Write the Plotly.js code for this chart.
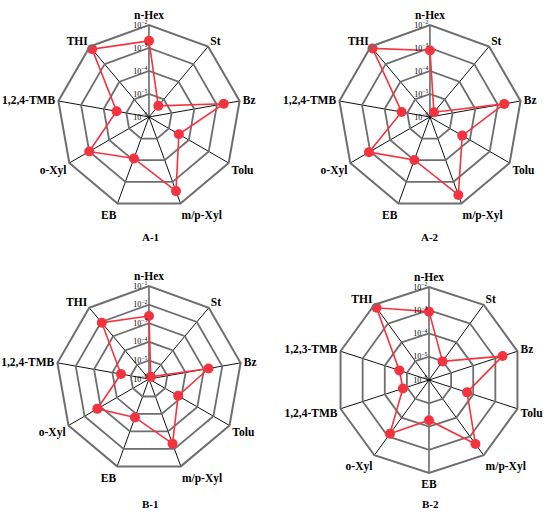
<!DOCTYPE html>
<html>
<head>
<meta charset="utf-8">
<script src="https://cdn.plot.ly/plotly-3.0.1.min.js"></script>
<style>html,body{margin:0;padding:0;background:#fff}#chart{width:550px;height:516px}</style>
</head>
<body>
<div id="chart"></div>
<script>
// categories
const cats9 = ["n-Hex","St","Bz","Tolu","m/p-Xyl","EB","o-Xyl","1,2,4-TMB","THI"];
const cats10 = ["n-Hex","St","Bz","Tolu","m/p-Xyl","EB","o-Xyl","1,2,4-TMB","1,2,3-TMB","THI"];
// values as log10 exponents
const logA1 = [-2.69,-5.37,-2.70,-4.50,-2.57,-4.08,-3.00,-4.57,-2.15];
const logA2 = [-3.11,-5.73,-2.72,-4.38,-2.39,-4.01,-2.94,-4.75,-2.11];
const logB1 = [-2.61,-5.85,-2.75,-4.19,-2.30,-3.80,-2.79,-4.47,-2.05];
const logB2 = [-3.06,-5.01,-2.67,-4.28,-2.60,-4.27,-3.14,-4.82,-4.66,-2.16];
// panel labels
const panelNames = ["A-1","A-2","B-1","B-2"];
// radial tick exponents (first = centre of the chart)
const tickExp4 = [-6,-5,-4,-3,-2];
const tickExp5 = [-6,-5,-4,-3,-2,-1];

const closeArr = a => a.concat([a[0]]);

const red = "#f5333f";
// radial coordinate = decades above the centre value (log scale)
function traces(cats, logs, exps, sub) {
  const base = exps[0];
  const r = logs.map(v => v - base);
  return [{
    type: "scatterpolar",
    r: closeArr(r),
    theta: closeArr(cats),
    mode: "lines",
    line: {color: red, width: 1.6},
    subplot: sub,
    showlegend: false,
    hoverinfo: "skip"
  }, {
    type: "scatterpolar",
    r: r,
    theta: cats,
    mode: "markers",
    marker: {color: red, size: 10, symbol: "circle"},
    subplot: sub,
    showlegend: false,
    hoverinfo: "skip"
  }];
}
const data = [].concat(
  traces(cats9, logA1, tickExp4, "polar"),
  traces(cats9, logA2, tickExp4, "polar2"),
  traces(cats9, logB1, tickExp5, "polar3"),
  traces(cats10, logB2, tickExp4, "polar4")
);

const tickFont = {family: "Liberation Serif, serif", size: 8, color: "#000"};
const catFont = {family: "Liberation Serif, serif", size: 11.5, color: "#000", weight: "bold"};

function polar(dx, dy, cats, exps) {
  const base = exps[0];
  return {
    domain: {x: dx, y: dy},
    gridshape: "linear",
    bgcolor: "rgba(0,0,0,0)",
    radialaxis: {
      range: [0, exps[exps.length-1] - base],
      tickvals: exps.map(e => e - base),
      ticktext: exps.map(e => "10<sup>\u2212" + Math.abs(e) + "</sup>"),
      tickfont: tickFont,
      angle: 90,
      side: "counterclockwise",
      showline: false,
      ticks: "",
      gridcolor: "#6e6e6e",
      gridwidth: 1.8,
      tickangle: 90
    },
    angularaxis: {
      type: "category",
      categoryarray: cats,
      direction: "clockwise",
      rotation: 90,
      tickfont: catFont,
      ticks: "",
      gridcolor: "#111",
      gridwidth: 1,
      linecolor: "#6e6e6e",
      linewidth: 2
    }
  };
}

const layout = {
  width: 550, height: 516,
  margin: {l: 0, r: 0, t: 0, b: 0},
  paper_bgcolor: "#fff",
  polar: polar([0.1036, 0.4382], [0.595, 0.9516], cats9, tickExp4),
  polar2: polar([0.6145, 0.949], [0.595, 0.9516], cats9, tickExp4),
  polar3: polar([0.1018, 0.44], [0.0853, 0.4457], cats9, tickExp5),
  polar4: polar([336/550, 522/550], [0.0833, 0.4438], cats10, tickExp4),
  annotations: [
    {text: panelNames[0], x: 150/550, y: 1-237/516},
    {text: panelNames[1], x: 430/550, y: 1-237/516},
    {text: panelNames[2], x: 150/550, y: 1-504/516},
    {text: panelNames[3], x: 430/550, y: 1-504/516}
  ].map(a => Object.assign(a, {xref: "paper", yref: "paper", showarrow: false,
      xanchor: "center", yanchor: "middle",
      font: {family: "Liberation Serif, serif", size: 11, color: "#000", weight: "bold"}}))
};

Plotly.newPlot("chart", data, layout, {displayModeBar: false, staticPlot: true});
</script>
</body>
</html>
